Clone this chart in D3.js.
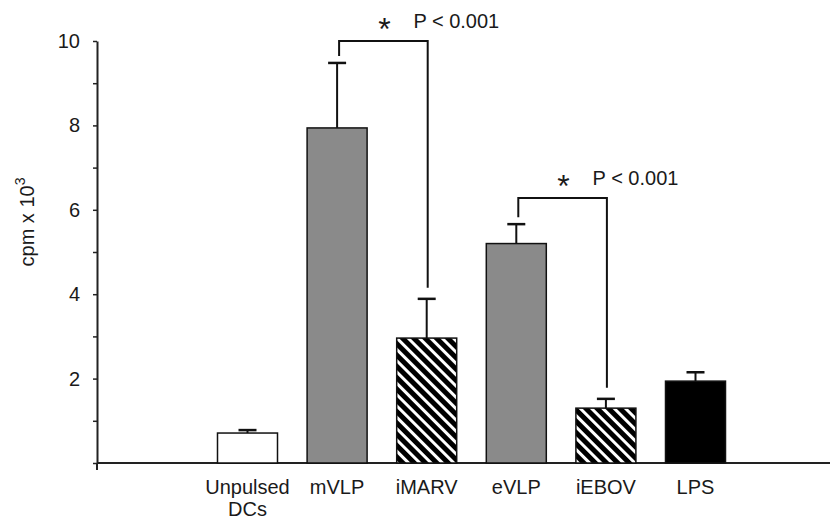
<!DOCTYPE html>
<html>
<head>
<meta charset="utf-8">
<script src="https://cdn.jsdelivr.net/npm/d3@7"></script>
<style>
  body { margin: 0; background: #fff; }
  text { font-family: "Liberation Sans", Arial, sans-serif; fill: #1a1a1a; }
</style>
</head>
<body>
<div id="chart"></div>
<script>
// data
var categories = ["Unpulsed DCs", "mVLP", "iMARV", "eVLP", "iEBOV", "LPS"];
var values = [0.71, 7.94, 2.96, 5.20, 1.30, 1.94];
var errors = [0.78, 9.48, 3.89, 5.66, 1.52, 2.15];
var fills = ["white", "grey", "hatch", "grey", "hatch", "black"];
var yTicks = [0, 1, 2, 3, 4, 5, 6, 7, 8, 9, 10];
var brackets = [
  {from: "mVLP", to: "iMARV", top: 10.0, label: "P < 0.001"},
  {from: "eVLP", to: "iEBOV", top: 6.28, label: "P < 0.001"}
];

var W = 830, H = 520;
var svg = d3.select("#chart").append("svg")
  .attr("width", W).attr("height", H);

// hatch pattern: black with white diagonal stripes
var defs = svg.append("defs");
var pat = defs.append("pattern")
  .attr("id", "hatch")
  .attr("patternUnits", "userSpaceOnUse")
  .attr("width", 8).attr("height", 8)
  .attr("patternTransform", "rotate(-45)");
pat.append("rect").attr("width", 8).attr("height", 8).attr("fill", "#000");
pat.append("rect").attr("x", 0).attr("width", 3).attr("height", 8).attr("fill", "#fff");

var colorOf = {white: "#fff", grey: "#8a8a8a", black: "#000", hatch: "url(#hatch)"};

var y = d3.scaleLinear().domain([0, 10]).range([463, 41]);
var x = d3.scalePoint().domain(categories).range([247.5, 695.5]);
var barW = 60;
var axisX = 97;

// x axis line
svg.append("line")
  .attr("x1", axisX).attr("x2", W)
  .attr("y1", y(0)).attr("y2", y(0))
  .attr("stroke", "#222").attr("stroke-width", 2);

// y axis
var yAxis = svg.append("g")
  .attr("transform", "translate(" + axisX + ",0)")
  .call(d3.axisLeft(y).tickValues(yTicks).tickSizeInner(4).tickSizeOuter(0).tickPadding(13)
    .tickFormat(function(d) { return (d > 0 && d % 2 === 0) ? d : ""; }));
yAxis.select(".domain").attr("stroke", "#222").attr("stroke-width", 2);
yAxis.selectAll(".tick line").attr("stroke", "#222").attr("stroke-width", 1.5);
yAxis.selectAll(".tick text").attr("font-size", 20)
  .attr("font-family", "Liberation Sans, Arial, sans-serif").attr("fill", "#1a1a1a");
// axis overshoot below the baseline
svg.append("line")
  .attr("x1", axisX).attr("x2", axisX)
  .attr("y1", y(0)).attr("y2", y(0) + 7)
  .attr("stroke", "#222").attr("stroke-width", 2);

// y label
var yl = svg.append("text")
  .attr("transform", "translate(34,222) rotate(-90)")
  .attr("text-anchor", "middle")
  .attr("font-size", 20);
yl.append("tspan").text("cpm x 10");
yl.append("tspan").attr("dy", -9).attr("font-size", 14).text("3");

// error bars (upper only)
var eb = svg.selectAll(".err").data(categories).enter().append("g");
eb.append("line")
  .attr("x1", function(d) { return x(d); })
  .attr("x2", function(d) { return x(d); })
  .attr("y1", function(d, i) { return y(values[i]); })
  .attr("y2", function(d, i) { return y(errors[i]); })
  .attr("stroke", "#111").attr("stroke-width", 2);
eb.append("line")
  .attr("x1", function(d) { return x(d) - 9; })
  .attr("x2", function(d) { return x(d) + 9; })
  .attr("y1", function(d, i) { return y(errors[i]); })
  .attr("y2", function(d, i) { return y(errors[i]); })
  .attr("stroke", "#111").attr("stroke-width", 2.5);

// bars
svg.selectAll(".bar").data(categories).enter().append("rect")
  .attr("x", function(d) { return x(d) - barW / 2; })
  .attr("width", barW)
  .attr("y", function(d, i) { return y(values[i]); })
  .attr("height", function(d, i) { return y(0) - y(values[i]); })
  .attr("fill", function(d, i) { return colorOf[fills[i]]; })
  .attr("stroke", "#111").attr("stroke-width", 1.5);

// category labels
svg.selectAll(".cat").data(categories).enter().append("text")
  .attr("text-anchor", "middle")
  .attr("font-size", 20)
  .attr("y", 494)
  .each(function(d) {
    var parts = d === "Unpulsed DCs" ? ["Unpulsed", "DCs"] : [d];
    var t = d3.select(this);
    parts.forEach(function(p, k) {
      t.append("tspan").attr("x", x(d)).attr("dy", k === 0 ? 0 : 22).text(p);
    });
  });

// significance brackets
brackets.forEach(function(b) {
  var i0 = categories.indexOf(b.from), i1 = categories.indexOf(b.to);
  var x0 = x(b.from) + 2, x1 = x(b.to) + 1;
  var yt = y(b.top);
  svg.append("path")
    .attr("d", "M" + x0 + "," + (y(errors[i0]) - 7) + "V" + yt + "H" + x1 + "V" + (y(errors[i1]) - 11))
    .attr("fill", "none").attr("stroke", "#111").attr("stroke-width", 2);
  var cx = (x0 + x1) / 2;
  svg.append("text")
    .attr("x", cx + 1).attr("y", yt - 1)
    .attr("text-anchor", "middle")
    .attr("font-size", 32).text("*");
  svg.append("text")
    .attr("x", cx + 30).attr("y", yt - 13)
    .attr("font-size", 20).text(b.label);
});
</script>
</body>
</html>
